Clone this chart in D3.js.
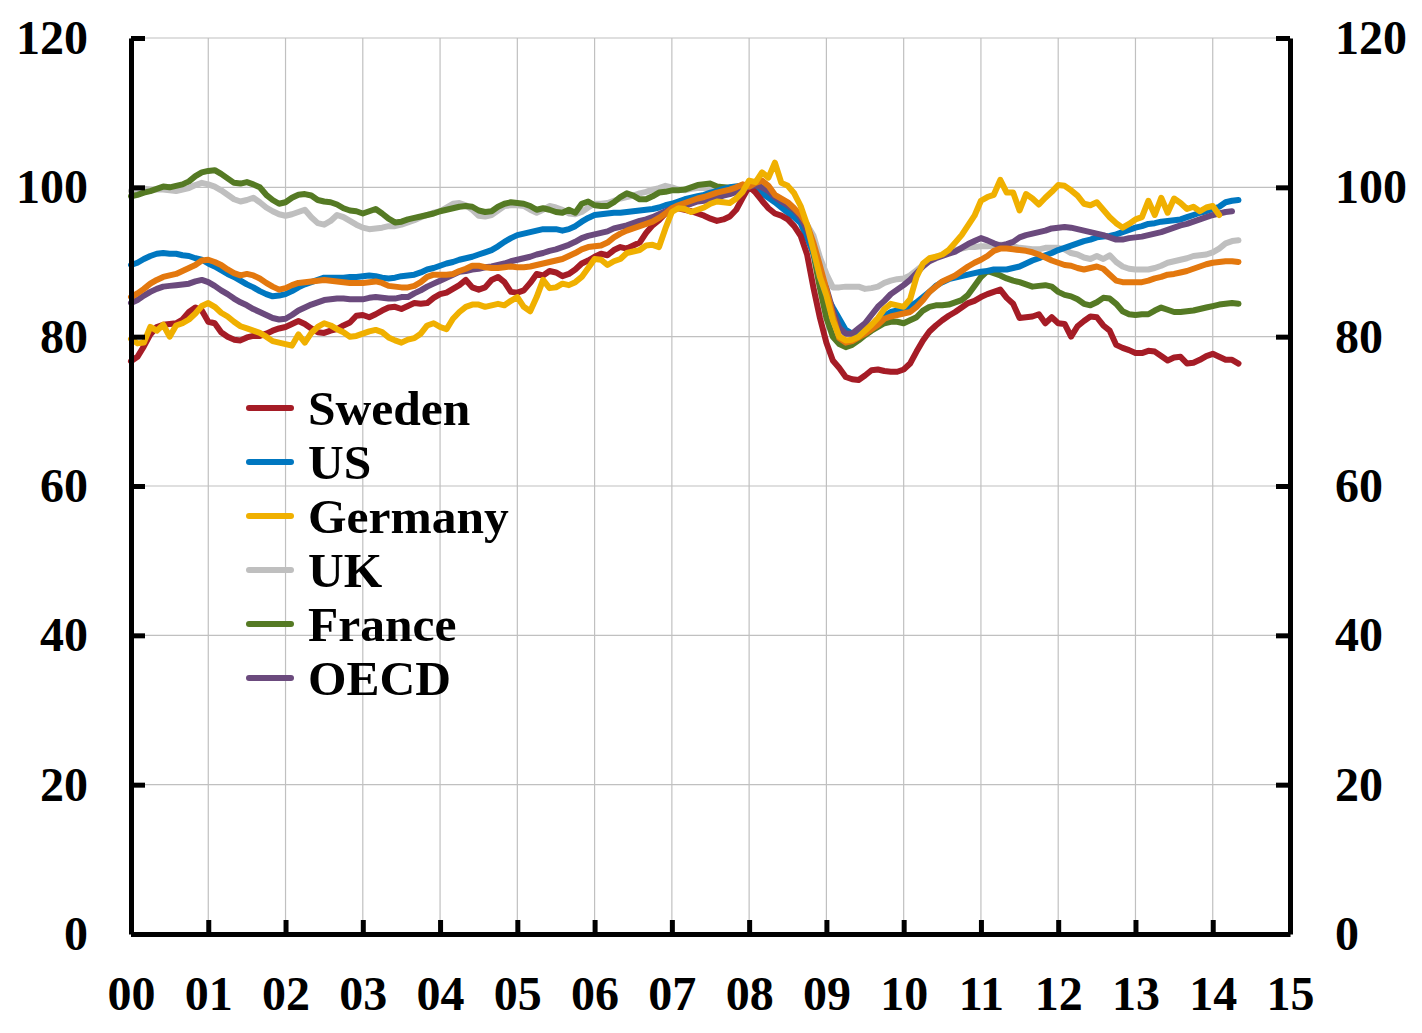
<!DOCTYPE html>
<html>
<head>
<meta charset="utf-8">
<script src="https://cdn.jsdelivr.net/npm/d3@7"></script>
<style>
  html, body { margin: 0; padding: 0; background: #fff; }
  svg { display: block; }
  text { font-family: "Liberation Serif", "Times New Roman", serif; font-weight: bold; }
</style>
</head>
<body>
<svg id="chart"></svg>
<script>
// Monthly index values, Jan 2000 onwards (one row per year)
const sweden = [
  76.7, 77.3, 78.7, 80.3, 81.3, 81.6, 81.7, 81.8, 82.3, 83.3, 83.9, 83.5,
  82.0, 81.8, 80.6, 80.0, 79.6, 79.5, 79.9, 80.1, 80.1, 80.4, 80.8, 81.1,
  81.3, 81.7, 82.1, 81.7, 81.1, 80.6, 80.5, 80.8, 81.0, 81.5, 81.9, 82.8,
  82.9, 82.6, 83.0, 83.5, 83.9, 84.0, 83.7, 84.1, 84.5, 84.4, 84.5, 85.2,
  85.7, 85.9, 86.4, 86.9, 87.6, 86.6, 86.3, 86.6, 87.6, 88.0, 87.3, 86.0,
  85.9, 86.2, 87.2, 88.4, 88.2, 88.8, 88.6, 88.1, 88.4, 89.0, 89.8, 90.2,
  90.7, 91.1, 90.9, 91.6, 92.0, 91.8, 92.2, 92.6, 93.9, 94.9, 95.6, 96.5,
  97.0, 97.2, 97.0, 96.8, 96.5, 96.2, 95.8, 95.5, 95.7, 96.1, 97.0, 98.6,
  100.1, 99.3, 98.2, 97.2, 96.5, 96.2, 95.7, 94.8, 93.5, 91.0, 86.5, 82.5,
  79.2, 76.8, 75.8, 74.6, 74.3, 74.2, 74.8, 75.5, 75.6, 75.4, 75.3, 75.3,
  75.6, 76.4, 78.0, 79.5, 80.7, 81.5, 82.2, 82.8, 83.3, 83.9, 84.5, 84.8,
  85.3, 85.7, 86.0, 86.3, 85.2, 84.4, 82.5, 82.6, 82.7, 83.0, 81.8, 82.6,
  81.8, 81.7, 80.0, 81.4, 82.1, 82.7, 82.6, 81.5, 80.8, 78.9, 78.5, 78.2,
  77.8, 77.8, 78.1, 78.0, 77.4, 76.8, 77.2, 77.3, 76.4, 76.5, 76.9, 77.4,
  77.7, 77.3, 76.9, 76.9, 76.4
];
const us = [
  89.6, 89.9, 90.4, 90.8, 91.1, 91.2, 91.1, 91.1, 90.9, 90.8, 90.5, 90.3,
  89.8, 89.4, 88.9, 88.4, 88.0, 87.5, 87.0, 86.6, 86.1, 85.7, 85.4, 85.5,
  85.7, 86.1, 86.6, 87.0, 87.3, 87.6, 87.9, 87.9, 87.9, 87.9, 88.0, 88.0,
  88.1, 88.2, 88.1, 87.9, 87.8, 87.9, 88.1, 88.2, 88.3, 88.6, 89.0, 89.2,
  89.5, 89.8, 90.0, 90.3, 90.5, 90.7, 91.0, 91.3, 91.6, 92.1, 92.7, 93.2,
  93.6, 93.8, 94.0, 94.2, 94.4, 94.4, 94.4, 94.2, 94.4, 94.8, 95.4, 95.9,
  96.3, 96.4, 96.5, 96.6, 96.6, 96.7, 96.8, 96.9, 97.0, 97.1, 97.3, 97.6,
  97.8, 98.1, 98.4, 98.6, 98.8, 99.0, 99.3, 99.5, 99.8, 100.0, 100.1, 100.2,
  100.1, 99.7, 99.2, 98.6, 98.0, 97.3, 96.6, 96.0, 95.2, 93.2, 91.2, 88.0,
  85.5, 83.9, 82.4, 80.9, 80.4, 80.5, 80.9, 81.6, 82.2, 82.8, 83.3, 83.5,
  83.7, 84.1, 84.6, 85.3, 86.0, 86.8, 87.3, 87.7, 87.9, 88.1, 88.3, 88.5,
  88.7, 88.8, 89.0, 89.0, 89.0, 89.2, 89.4, 89.8, 90.2, 90.5, 90.9, 91.2,
  91.6, 91.9, 92.2, 92.5, 92.8, 93.0, 93.3, 93.4, 93.5, 93.7, 94.0, 94.3,
  94.6, 94.8, 95.1, 95.2, 95.4, 95.5, 95.6, 95.7, 96.0, 96.3, 96.6, 96.8,
  97.1, 97.4, 98.0, 98.2, 98.3
];
const germany = [
  79.7, 79.1, 79.2, 81.3, 80.8, 81.6, 80.0, 81.5, 81.8, 82.3, 83.1, 84.1,
  84.5, 84.0, 83.2, 82.7, 82.0, 81.4, 81.1, 80.8, 80.5, 80.0, 79.4, 79.2,
  79.0, 78.8, 80.3, 79.2, 80.5, 81.3, 81.8, 81.5, 81.0, 80.6, 80.0, 80.1,
  80.4, 80.7, 80.9, 80.6, 79.9, 79.5, 79.2, 79.6, 79.8, 80.4, 81.5, 81.8,
  81.3, 81.0, 82.4, 83.3, 84.0, 84.3, 84.3, 84.0, 84.2, 84.4, 84.2, 84.8,
  85.3, 84.0, 83.4, 85.3, 87.6, 86.5, 86.6, 87.1, 86.9, 87.3, 88.0, 89.2,
  90.4, 90.3, 89.6, 90.1, 90.4, 91.2, 91.4, 91.6, 92.2, 92.3, 92.0, 94.5,
  96.7, 97.2, 97.1, 96.7, 97.0, 97.3, 97.8, 98.1, 98.0, 97.9, 98.5, 99.4,
  100.9, 100.7, 102.0, 101.3, 103.3, 100.6, 100.2, 99.2, 97.5, 95.0, 91.5, 88.0,
  85.5, 82.2, 80.0, 79.5, 79.6, 80.0, 80.8, 81.6, 82.5, 83.7, 84.4, 84.2,
  84.0, 85.0, 88.0, 89.8, 90.5, 90.7, 91.0, 91.6, 92.6, 93.6, 94.9, 96.2,
  98.2, 98.7, 99.0, 101.0, 99.3, 99.3, 96.9, 99.1, 98.5, 97.7, 98.6, 99.4,
  100.3, 100.2, 99.6, 98.9, 97.8, 97.6, 98.0, 97.0, 96.0, 95.2, 94.6, 95.1,
  95.7, 96.0, 98.2, 96.3, 98.6, 96.6, 98.5, 97.9, 97.1, 97.4, 96.8, 97.3,
  97.5, 96.3
];
const uk = [
  99.5, 99.6, 99.8, 99.7, 99.7, 99.7, 99.6, 99.5, 99.7, 99.9, 100.3, 100.6,
  100.4, 100.1, 99.6, 99.0, 98.4, 98.1, 98.3, 98.6, 98.0, 97.3, 96.8, 96.4,
  96.2, 96.4, 96.7, 97.0, 96.0, 95.2, 95.0, 95.5, 96.3, 96.0, 95.5, 95.0,
  94.6, 94.4, 94.5, 94.6, 94.8, 94.8, 95.0, 95.3, 95.6, 96.0, 96.3, 96.6,
  96.8, 97.3, 97.8, 97.9, 97.6, 97.0, 96.2, 96.1, 96.3, 96.9, 97.5, 97.6,
  97.6, 97.5, 97.0, 96.6, 97.0, 97.5, 97.3, 97.0, 96.5, 96.4, 96.7, 97.3,
  97.8, 97.8, 97.9, 98.2, 98.5, 98.7, 98.9, 99.2, 99.4, 99.7, 99.9, 100.2,
  100.0, 99.7, 99.6, 99.8, 99.9, 99.9, 99.9, 99.9, 100.0, 100.0, 100.1, 100.2,
  100.1, 99.8, 99.4, 98.9, 98.2, 97.6, 97.2, 96.7, 96.0, 95.0, 93.5, 90.6,
  88.4, 86.6, 86.6, 86.7, 86.7, 86.7, 86.4, 86.5, 86.7, 87.2, 87.5, 87.7,
  87.8, 88.2, 88.9, 89.6, 90.2, 90.7, 90.9, 91.2, 91.6, 91.8, 92.0, 92.0,
  92.1, 92.1, 92.2, 92.3, 92.3, 92.1, 91.9, 91.8, 91.7, 91.7, 91.9, 91.9,
  91.9, 91.7, 91.2, 91.0, 90.6, 90.4, 90.8, 90.4, 90.9, 90.0, 89.4, 89.1,
  89.0, 89.0, 89.0, 89.2, 89.5, 89.9, 90.1, 90.3, 90.5, 90.8, 90.9, 91.0,
  91.3, 91.8, 92.5, 92.8, 92.9
];
const france = [
  98.8, 99.0, 99.3, 99.5, 99.8, 100.1, 100.0, 100.2, 100.4, 100.8, 101.5, 102.0,
  102.2, 102.3, 101.8, 101.2, 100.6, 100.5, 100.7, 100.4, 100.0, 99.0, 98.3, 97.8,
  98.0, 98.6, 99.0, 99.1, 98.9, 98.3, 98.1, 98.0, 97.7, 97.2, 96.9, 96.8,
  96.5, 96.8, 97.1, 96.5, 95.8, 95.3, 95.4, 95.7, 95.9, 96.1, 96.3, 96.5,
  96.8, 97.0, 97.2, 97.4, 97.5, 97.4, 96.9, 96.7, 96.8, 97.4, 97.8, 98.0,
  97.9, 97.8, 97.5, 97.0, 97.2, 97.0, 96.7, 96.6, 97.0, 96.6, 97.8, 98.1,
  97.6, 97.5, 97.5, 98.0, 98.7, 99.2, 98.9, 98.4, 98.4, 98.8, 99.3, 99.4,
  99.6, 99.6, 99.7, 100.0, 100.3, 100.4, 100.5, 100.1, 100.0, 99.9, 100.0, 100.3,
  100.1, 100.0, 99.7, 99.1, 98.2, 97.6, 97.0, 96.3, 95.5, 93.8, 91.0, 86.5,
  82.5, 80.0, 79.0, 78.6, 78.9, 79.5, 80.2, 80.8, 81.3, 81.8, 82.0, 82.0,
  81.8, 82.2, 82.6, 83.5, 84.0, 84.2, 84.2, 84.3, 84.6, 84.9, 85.6, 86.8,
  88.0, 88.8, 88.5, 88.2, 87.8, 87.5, 87.3, 87.0, 86.7, 86.8, 86.9, 86.7,
  86.0, 85.6, 85.4, 85.0, 84.4, 84.2, 84.6, 85.2, 85.1, 84.4, 83.4, 83.0,
  82.9, 83.0, 83.0, 83.5, 83.9, 83.6, 83.3, 83.3, 83.4, 83.5, 83.7, 83.9,
  84.1, 84.3, 84.4, 84.5, 84.4
];
const oecd = [
  84.5, 84.9, 85.5, 86.0, 86.4, 86.7, 86.8, 86.9, 87.0, 87.1, 87.4, 87.6,
  87.3, 86.8, 86.2, 85.7, 85.1, 84.6, 84.2, 83.7, 83.3, 82.9, 82.5, 82.3,
  82.4, 82.9, 83.5, 83.9, 84.3, 84.6, 84.9, 85.0, 85.1, 85.1, 85.0, 85.0,
  85.0, 85.2, 85.3, 85.2, 85.1, 85.1, 85.3, 85.3, 85.8, 86.2, 86.7, 87.1,
  87.5, 87.9, 88.3, 88.7, 88.8, 89.0, 89.1, 89.3, 89.4, 89.6, 89.8, 90.1,
  90.3, 90.5, 90.7, 91.0, 91.2, 91.5, 91.7, 92.0, 92.3, 92.7, 93.2, 93.5,
  93.7, 93.9, 94.1, 94.5, 94.7, 94.9, 95.2, 95.5, 95.7, 96.0, 96.4, 96.8,
  97.2, 97.4, 97.6, 97.8, 98.1, 98.2, 98.4, 98.6, 98.9, 99.1, 99.4, 99.8,
  100.1, 100.3, 100.0, 99.5, 98.7, 98.1, 97.6, 97.0, 95.9, 94.3, 91.8, 88.5,
  86.5, 83.5, 81.2, 80.4, 80.4, 81.1, 81.8, 82.9, 84.0, 84.8, 85.7, 86.3,
  86.9, 87.6, 88.5, 89.4, 90.1, 90.5, 90.8, 91.1, 91.4, 91.9, 92.4, 92.8,
  93.2, 92.9, 92.5, 92.2, 92.4, 92.7, 93.3, 93.6, 93.8, 94.0, 94.2, 94.5,
  94.6, 94.7, 94.6, 94.4, 94.2, 94.0, 93.8, 93.6, 93.3, 93.0, 93.0, 93.2,
  93.3, 93.4, 93.6, 93.8, 94.0, 94.3, 94.6, 94.9, 95.1, 95.4, 95.7, 96.0,
  96.3, 96.5, 96.7, 96.8
];
// orange line, drawn but not in the legend
const euroArea = [
  85.3, 85.8, 86.4, 87.1, 87.6, 88.0, 88.2, 88.4, 88.8, 89.2, 89.6, 90.2,
  90.3, 90.0, 89.6, 89.0, 88.5, 88.2, 88.4, 88.2, 87.8, 87.2, 86.7, 86.3,
  86.5, 86.9, 87.2, 87.3, 87.4, 87.5, 87.6, 87.5, 87.4, 87.3, 87.2, 87.2,
  87.2, 87.3, 87.4, 87.2, 86.8, 86.7, 86.6, 86.6, 86.8, 87.3, 88.0, 88.3,
  88.3, 88.3, 88.4, 88.8, 89.1, 89.5, 89.5, 89.3, 89.2, 89.2, 89.3, 89.4,
  89.3, 89.3, 89.4, 89.6, 89.8, 90.0, 90.2, 90.4, 90.8, 91.2, 91.7, 92.0,
  92.1, 92.2, 92.6, 93.3, 93.8, 94.2, 94.5, 94.8, 95.1, 95.4, 95.9, 96.5,
  97.2, 97.6, 97.9, 98.2, 98.5, 98.7, 99.0, 99.3, 99.5, 99.7, 100.0, 100.4,
  100.1, 100.6, 100.9, 100.2, 99.0, 98.5, 98.0, 97.2, 96.3, 95.0, 92.5, 89.5,
  86.3, 82.8, 79.8, 79.2, 79.4, 79.9, 80.4, 81.0, 81.6, 82.4, 82.7, 82.9,
  83.1, 83.3, 84.0, 84.9, 86.0, 86.7, 87.4, 87.8, 88.2, 88.8, 89.4, 89.9,
  90.3, 90.8, 91.5, 91.8, 91.8, 91.7, 91.6, 91.5, 91.3, 91.0, 90.6, 90.2,
  89.9, 89.6, 89.5, 89.2, 89.0, 89.2, 89.4, 89.1, 88.3, 87.5, 87.3, 87.3,
  87.3, 87.3, 87.5, 87.8, 88.0, 88.3, 88.4, 88.6, 88.8, 89.1, 89.4, 89.7,
  89.9, 90.0, 90.1, 90.1, 90.0
];

const yearLabels = ["00", "01", "02", "03", "04", "05", "06", "07",
                    "08", "09", "10", "11", "12", "13", "14", "15"];
const yTicks = [0, 20, 40, 60, 80, 100, 120];

const series = [
  { name: "UK", values: uk, color: "#bfbfbf" },
  { name: "France", values: france, color: "#557a24" },
  { name: "US", values: us, color: "#0077c0" },
  { name: "Sweden", values: sweden, color: "#a51c26" },
  { name: "OECD", values: oecd, color: "#6b4a7d" },
  { name: "Euro area", values: euroArea, color: "#e3780e" },
  { name: "Germany", values: germany, color: "#f0b000" }
];
const legendOrder = ["Sweden", "US", "Germany", "UK", "France", "OECD"];

const W = 1422, H = 1033;
const margin = { left: 131, right: 1290, top: 38, bottom: 934 };

const svg = d3.select("#chart").attr("width", W).attr("height", H);

// x in months since Jan 2000
const x = d3.scaleLinear().domain([0, 180]).range([margin.left, margin.right]);
const y = d3.scaleLinear().domain([0, 120]).range([margin.bottom, margin.top]);
const yearTicks = d3.range(yearLabels.length).map(i => i * 12);

// Gridlines
const grid = svg.append("g").attr("stroke", "#c0c0c0").attr("stroke-width", 1.2);
grid.selectAll(".gy")
  .data(yTicks)
  .enter().append("line")
    .attr("x1", margin.left).attr("x2", margin.right)
    .attr("y1", d => y(d)).attr("y2", d => y(d));
grid.selectAll(".gx")
  .data(yearTicks)
  .enter().append("line")
    .attr("x1", d => x(d)).attr("x2", d => x(d))
    .attr("y1", margin.top).attr("y2", margin.bottom);

// Lines
const line = d3.line()
  .x((d, i) => x(i))
  .y(d => y(d));

svg.append("g")
  .selectAll("path")
  .data(series)
  .enter().append("path")
    .attr("d", d => line(d.values))
    .attr("fill", "none")
    .attr("stroke", d => d.color)
    .attr("stroke-width", 6)
    .attr("stroke-linejoin", "round")
    .attr("stroke-linecap", "round");

// Axes
function styleAxis(g) {
  g.select(".domain").attr("stroke", "#000").attr("stroke-width", 5);
  g.selectAll(".tick line").attr("stroke", "#000").attr("stroke-width", 5);
  g.selectAll(".tick text")
    .attr("fill", "#000")
    .style("font-size", "48px")
    .style("font-family", "'Liberation Serif', 'Times New Roman', serif")
    .style("font-weight", "bold");
}

svg.append("g")
  .attr("transform", `translate(${margin.left},0)`)
  .call(d3.axisLeft(y).tickValues(yTicks).tickSizeInner(-14).tickSizeOuter(0).tickPadding(43))
  .call(styleAxis);

svg.append("g")
  .attr("transform", `translate(${margin.right},0)`)
  .call(d3.axisRight(y).tickValues(yTicks).tickSizeInner(-14).tickSizeOuter(0).tickPadding(45))
  .call(styleAxis);

svg.append("g")
  .attr("transform", `translate(0,${margin.bottom})`)
  .call(d3.axisBottom(x).tickValues(yearTicks)
    .tickFormat((d, i) => yearLabels[i])
    .tickSizeInner(-14).tickSizeOuter(0).tickPadding(42))
  .call(styleAxis);

// Legend
const legend = svg.append("g").attr("transform", "translate(247,408)");
const rows = legend.selectAll("g")
  .data(legendOrder.map(n => series.find(s => s.name === n)))
  .enter().append("g")
    .attr("transform", (d, i) => `translate(0,${i * 54})`);
rows.append("line")
  .attr("x1", 2).attr("x2", 44)
  .attr("stroke", d => d.color)
  .attr("stroke-width", 6)
  .attr("stroke-linecap", "round");
rows.append("text")
  .attr("x", 61)
  .attr("dy", "0.34em")
  .style("font-size", "49.5px")
  .text(d => d.name);
</script>
</body>
</html>
